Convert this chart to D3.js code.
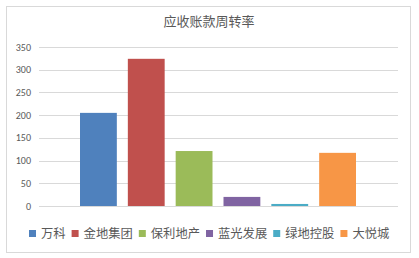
<!DOCTYPE html>
<html>
<head>
<meta charset="utf-8">
<script src="https://cdn.jsdelivr.net/npm/d3@7"></script>
<style>
  body { margin: 0; background: #fff; }
  svg { display: block; font-family: "Noto Sans CJK SC", "Microsoft YaHei", sans-serif; }
</style>
</head>
<body>
<svg id="chart" width="419" height="258"></svg>
<script>
const categories = ["万科", "金地集团", "保利地产", "蓝光发展", "绿地控股", "大悦城"];
const values = [205, 324, 121, 20, 4.5, 117];
const yTicks = [0, 50, 100, 150, 200, 250, 300, 350];
const colors = ["#4F81BD", "#C0504D", "#9BBB59", "#8064A2", "#4BACC6", "#F79646"];

const svg = d3.select("#chart");

// outer frame
svg.append("rect")
  .attr("x", 6.5).attr("y", 6.5)
  .attr("width", 404).attr("height", 246)
  .attr("fill", "#fff")
  .attr("stroke", "#d9d9d9");

svg.append("text")
  .attr("x", 209).attr("y", 26)
  .attr("text-anchor", "middle")
  .attr("font-size", "13px")
  .attr("fill", "#595959")
  .text("应收账款周转率");

const y = d3.scaleLinear().domain([0, 350]).range([206, 47]);
const x = d3.scaleBand().domain(categories).range([74.5, 361.5]).paddingInner(0.23).paddingOuter(0.115);

// gridlines
svg.append("g")
  .selectAll("line")
  .data(yTicks)
  .join("line")
  .attr("x1", 39).attr("x2", 398)
  .attr("y1", d => Math.round(y(d)) + 0.5)
  .attr("y2", d => Math.round(y(d)) + 0.5)
  .attr("stroke", "#d9d9d9");

// y labels
svg.append("g")
  .selectAll("text")
  .data(yTicks)
  .join("text")
  .attr("x", 31)
  .attr("y", d => y(d) + 3.5)
  .attr("text-anchor", "end")
  .attr("font-size", "10px")
  .attr("font-family", "Calibri, Carlito, 'Liberation Sans', sans-serif")
  .attr("fill", "#595959")
  .text(d => d);

// bars
svg.append("g")
  .selectAll("rect")
  .data(values)
  .join("rect")
  .attr("x", (d, i) => x(categories[i]))
  .attr("width", x.bandwidth())
  .attr("y", d => y(d))
  .attr("height", d => y(0) - y(d))
  .attr("fill", (d, i) => colors[i]);

// legend
const legend = svg.append("g").attr("transform", "translate(29,0)");
let lx = 0;
categories.forEach((c, i) => {
  const g = legend.append("g").attr("transform", `translate(${lx},0)`);
  g.append("rect")
    .attr("x", 0).attr("y", 230)
    .attr("width", 7).attr("height", 7)
    .attr("fill", colors[i]);
  const t = g.append("text")
    .attr("x", 12).attr("y", 237.5)
    .attr("font-size", "12.3px")
    .attr("fill", "#595959")
    .text(c);
  lx += 12 + t.node().getComputedTextLength() + 6;
});
</script>
</body>
</html>
